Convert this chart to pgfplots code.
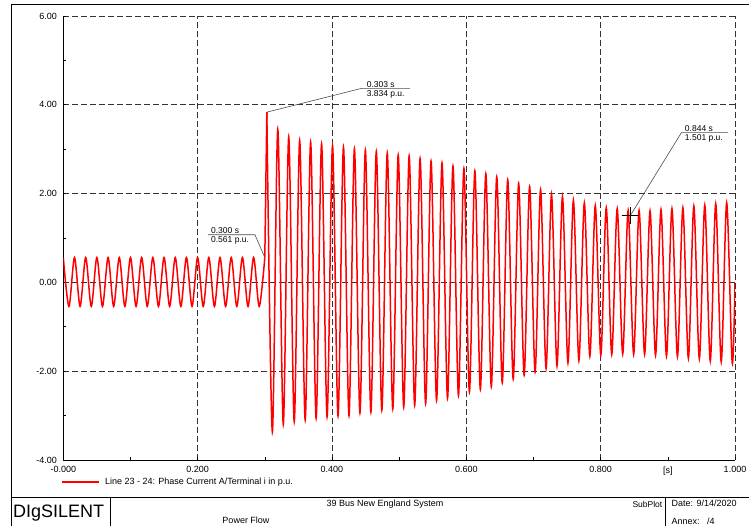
\documentclass[border=0pt]{standalone}
\usepackage{fontspec}
\setmainfont{Liberation Sans}
\usepackage{pgfplots}
\pgfplotsset{compat=1.18}
\begin{document}
\begin{tikzpicture}
\path[use as bounding box] (0pt,0pt) rectangle (749pt,526pt);
% outer frame and title block
\draw[line width=0.8pt] (11.5pt,0pt) -- (11.5pt,522pt) -- (749pt,522pt);
\draw[line width=0.8pt] (11.5pt,29pt) -- (749pt,29pt);
\draw[line width=0.8pt] (110pt,0pt) -- (110pt,29pt);
\draw[line width=0.8pt] (665.5pt,0pt) -- (665.5pt,29pt);
\node[anchor=west,inner sep=0pt,font=\fontsize{18}{20}\selectfont] at (13pt,13pt) {DIgSILENT};
\node[inner sep=0pt,font=\fontsize{9}{10}\selectfont] at (385pt,22pt) {39 Bus New England System};
\node[inner sep=0pt,font=\fontsize{9}{10}\selectfont] at (246pt,6pt) {Power Flow};
\node[anchor=east,inner sep=0pt,font=\fontsize{8.5}{10}\selectfont] at (662.5pt,22pt) {SubPlot};
\node[anchor=west,inner sep=0pt,font=\fontsize{9}{10}\selectfont] at (671.5pt,22.5pt) {Date: 9/14/2020};
\node[anchor=west,inner sep=0pt,font=\fontsize{9}{10}\selectfont] at (671.5pt,5pt) {Annex:\ \ \ /4};
\begin{axis}[
  at={(63.3pt,66pt)}, anchor=south west,
  scale only axis, width=671.7pt, height=444pt,
  xmin=0, xmax=1, ymin=-4, ymax=6,
  axis x line*=bottom, axis y line*=left,
  axis line style={-, black, line width=0.8pt},
  xtick={0,0.2,0.4,0.6,0.8,1},
  xticklabels={-0.000,0.200,0.400,0.600,0.800,1.000},
  ytick={-4,-2,0,2,4,6},
  yticklabels={-4.00,-2.00,0.00,2.00,4.00,6.00},
  minor xtick={0.1,0.3,0.5,0.7,0.9},
  minor ytick={-3,-1,1,3,5},
  extra x ticks={0.9},
  extra x tick labels={{[s]}},
  extra x tick style={grid=none, major tick length=0pt},
  grid=major,
  major grid style={dash pattern=on 6pt off 3pt, black!80, line width=0.6pt},
  tick style={black, line width=0.6pt},
  tick align=inside,
  major tick length=3pt, minor tick length=3pt,
  ticklabel style={font=\fontsize{9}{10}\selectfont},
  xticklabel style={yshift=-3pt},
  yticklabel style={xshift=-3pt},
  legend style={at={(0,0)}, anchor=north west, draw=none, fill=none,
    inner sep=0pt, yshift=-16pt, xshift=-2pt, font=\fontsize{9}{10}\selectfont,
    nodes={inner sep=2pt}},
  legend cell align=left,
  legend image code/.code={\draw[red, line width=1.5pt] (0pt,0pt) -- (37pt,0pt);},
]
% pre-fault steady state (60 Hz)
\addplot[red, line width=1.5pt, smooth] coordinates {
(0.0000,0.56)(0.00833,-0.54)(0.01667,0.56)(0.02500,-0.54)(0.03333,0.56)(0.04167,-0.54)
(0.05000,0.56)(0.05833,-0.54)(0.06667,0.56)(0.07500,-0.54)(0.08333,0.56)(0.09167,-0.54)
(0.10000,0.56)(0.10833,-0.54)(0.11667,0.56)(0.12500,-0.54)(0.13333,0.56)(0.14167,-0.54)
(0.15000,0.56)(0.15833,-0.54)(0.16667,0.56)(0.17500,-0.54)(0.18333,0.56)(0.19167,-0.54)
(0.20000,0.56)(0.20833,-0.54)(0.21667,0.56)(0.22500,-0.54)(0.23333,0.56)(0.24167,-0.54)
(0.25000,0.56)(0.25833,-0.54)(0.26667,0.56)(0.27500,-0.54)(0.28333,0.56)(0.29167,-0.54)
(0.30000,0.561)
};
\addlegendentry{\hspace{3pt}Line 23 - 24: Phase Current A/Terminal i in p.u.}
\addplot[red, line width=1.5pt, forget plot] coordinates {(0.300,0.561)(0.303,3.834)};
% fault period
\addplot[red, line width=1.5pt, smooth, forget plot] coordinates {
(0.3030,3.834)(0.3112,-3.37)(0.3193,3.45)(0.3275,-3.20)(0.3356,3.28)(0.3438,-3.14)
(0.3519,3.20)(0.3601,-3.10)(0.3682,3.16)(0.3764,-3.06)(0.3845,3.12)(0.3927,-3.03)
(0.4008,3.08)(0.4090,-3.01)(0.4171,3.05)(0.4253,-3.00)(0.4334,3.01)(0.4416,-2.94)
(0.4497,2.98)(0.4579,-2.92)(0.4660,2.95)(0.4742,-2.88)(0.4823,2.92)(0.4905,-2.85)
(0.4986,2.87)(0.5068,-2.81)(0.5149,2.85)(0.5231,-2.77)(0.5312,2.79)(0.5394,-2.73)
(0.5475,2.73)(0.5557,-2.66)(0.5638,2.69)(0.5720,-2.61)(0.5801,2.62)(0.5883,-2.55)
(0.5964,2.57)(0.6046,-2.47)(0.6127,2.51)(0.6209,-2.41)(0.6290,2.45)(0.6372,-2.35)
(0.6453,2.38)(0.6535,-2.26)(0.6616,2.31)(0.6698,-2.18)(0.6779,2.23)(0.6861,-2.09)
(0.6942,2.16)(0.7024,-2.02)(0.7105,2.09)(0.7187,-1.94)(0.7268,1.98)(0.7350,-1.88)
(0.7431,1.93)(0.7513,-1.81)(0.7594,1.85)(0.7676,-1.76)(0.7757,1.79)(0.7839,-1.66)
(0.7920,1.73)(0.8002,-1.64)(0.8083,1.68)(0.8165,-1.62)(0.8246,1.66)(0.8328,-1.61)
(0.8409,1.62)(0.8491,-1.62)(0.8572,1.62)(0.8654,-1.62)(0.8735,1.61)(0.8817,-1.64)
(0.8898,1.64)(0.8980,-1.66)(0.9061,1.66)(0.9143,-1.67)(0.9224,1.68)(0.9306,-1.71)
(0.9387,1.72)(0.9469,-1.72)(0.9550,1.74)(0.9632,-1.77)(0.9713,1.77)(0.9795,-1.79)
(0.9876,1.79)(0.9958,-1.81)(1.0000,0.0)
};
% cursor marker
\addplot[black, only marks, mark=+, mark size=8.5pt, mark options={line width=0.8pt}, forget plot] coordinates {(0.844,1.501)};
% annotations
\draw[black!70, line width=0.6pt] (axis cs:0.2154,1.074) -- (axis cs:0.2853,1.074) -- (axis cs:0.300,0.561);
\node[anchor=south west, inner sep=0pt, yshift=1pt, font=\fontsize{8.5}{9}\selectfont] at (axis cs:0.2198,1.074) {0.300 s};
\node[anchor=north west, inner sep=0pt, yshift=-1.5pt, font=\fontsize{8.5}{9}\selectfont] at (axis cs:0.2198,1.074) {0.561 p.u.};
\draw[black!70, line width=0.6pt] (axis cs:0.5159,4.369) -- (axis cs:0.4440,4.369) -- (axis cs:0.303,3.834);
\node[anchor=south west, inner sep=0pt, yshift=1pt, font=\fontsize{8.5}{9}\selectfont] at (axis cs:0.4515,4.369) {0.303 s};
\node[anchor=north west, inner sep=0pt, yshift=-1.5pt, font=\fontsize{8.5}{9}\selectfont] at (axis cs:0.4515,4.369) {3.834 p.u.};
\draw[black!70, line width=0.6pt] (axis cs:0.9896,3.372) -- (axis cs:0.9202,3.372) -- (axis cs:0.844,1.501);
\node[anchor=south west, inner sep=0pt, yshift=1pt, font=\fontsize{8.5}{9}\selectfont] at (axis cs:0.9252,3.372) {0.844 s};
\node[anchor=north west, inner sep=0pt, yshift=-1.5pt, font=\fontsize{8.5}{9}\selectfont] at (axis cs:0.9252,3.372) {1.501 p.u.};
\end{axis}
\end{tikzpicture}
\end{document}
